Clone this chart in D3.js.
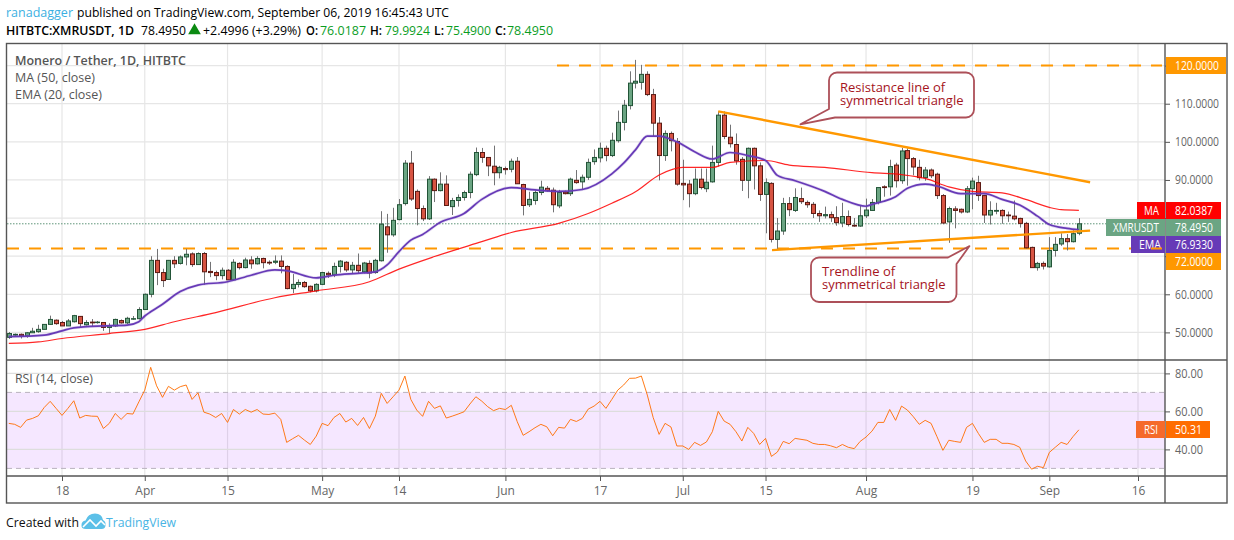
<!DOCTYPE html>
<html>
<head>
<meta charset="utf-8">
<script src="https://cdn.jsdelivr.net/npm/d3@7"></script>
<style>
  html, body { margin: 0; padding: 0; background: #fff; }
  svg { display: block; font-family: "Open Sans", sans-serif; }
  .axis path { display: none; }
  .axis line { stroke: #555; }
  .axis text { fill: #666; font-size: 12px; font-family: "Open Sans", sans-serif; }
</style>
</head>
<body>
<script>
// daily candles, first one is 9 Mar 2019
var firstDay = new Date(Date.UTC(2019, 2, 9));

var opens = [48.7,49.3,49.5,49.1,49.9,50.2,50.8,52.1,53.2,52.6,
  51.7,52.8,54.2,52.0,52.7,52.6,52.6,51.3,51.7,53.1,
  52.5,53.5,53.6,56.0,60.0,68.9,65.7,63.9,68.9,68.1,
  69.8,70.6,67.8,70.7,66.0,65.7,64.9,66.3,63.8,68.1,
  67.0,69.0,68.0,69.4,68.4,68.4,68.7,67.3,61.5,62.6,
  63.1,62.1,60.9,62.6,65.5,65.1,67.3,68.4,66.4,67.6,
  65.9,68.1,65.7,68.8,77.7,75.6,79.6,83.8,94.4,87.0,
  82.5,79.8,90.2,87.2,88.9,83.0,84.6,85.4,86.7,91.4,
  97.2,95.9,93.6,91.9,93.0,92.8,94.9,88.8,83.5,84.6,
  86.7,87.8,87.3,83.2,86.8,86.4,89.9,89.5,90.7,94.8,
  95.8,98.3,96.4,100.3,105.1,109.5,115.4,115.6,117.7,112.4,
  104.9,96.4,102.2,100.1,89.1,88.9,86.4,90.2,87.7,89.5,
  94.6,107.0,101.2,99.3,95.4,89.9,98.3,93.7,86.2,89.1,
  74.4,76.6,83.8,82.0,85.1,84.1,83.6,81.2,80.6,80.9,
  80.1,78.7,80.4,78.1,77.9,80.6,82.0,84.1,88.2,88.2,
  93.9,89.8,97.7,95.6,93.3,90.6,92.6,91.5,85.9,79.0,
  82.4,82.3,81.6,87.7,89.3,85.9,80.8,81.8,82.0,80.8,
  80.5,79.9,78.6,72.3,67.0,68.1,67.2,71.5,73.2,74.6,
  73.8,76.02];
var highs = [50.1,49.7,49.7,50.1,51.2,52.0,52.1,54.4,53.4,53.0,
  53.5,54.6,54.3,53.2,53.5,53.0,52.7,52.4,53.6,53.4,
  54.1,54.3,56.6,60.2,70.0,71.9,66.7,69.0,70.0,70.2,
  71.9,71.0,71.0,71.1,68.5,66.2,67.0,66.6,69.2,68.4,
  69.6,70.0,70.0,69.6,68.9,70.2,70.2,67.6,65.3,63.9,
  63.5,62.3,62.9,65.9,66.0,68.3,69.0,68.7,68.5,70.7,
  68.5,68.9,69.3,81.8,81.1,82.7,85.0,95.2,97.6,87.5,
  83.3,91.0,90.4,92.0,91.2,85.3,86.2,87.2,92.2,98.5,
  98.4,96.0,99.0,93.7,93.5,95.6,96.0,89.0,86.9,87.2,
  89.8,88.4,88.0,87.4,87.2,90.6,92.6,91.4,95.6,98.0,
  99.8,99.0,102.4,108.2,111.0,118.5,121.5,120.2,118.5,113.9,
  106.5,103.0,102.7,101.0,95.3,90.0,93.0,93.0,93.0,99.0,
  108.0,108.0,104.5,102.2,96.0,98.5,98.5,94.6,90.4,89.4,
  80.0,85.3,85.5,87.8,88.0,84.6,84.2,82.0,83.0,81.7,
  83.1,84.0,82.0,80.0,83.4,85.1,85.0,88.0,88.6,95.3,
  94.5,98.4,98.3,96.0,95.3,93.4,93.0,91.9,86.3,83.0,
  83.1,82.5,88.4,90.6,91.1,86.1,84.4,84.0,82.3,81.7,
  84.6,80.1,79.0,72.5,68.5,68.6,75.0,75.0,76.0,75.8,
  76.8,79.99];
var lows = [48.3,49.1,48.4,48.6,49.9,49.9,50.8,52.0,52.0,51.7,
  51.7,52.6,51.4,51.8,51.6,52.3,50.4,49.8,51.4,52.3,
  52.2,53.3,53.4,55.9,59.2,62.4,61.9,63.9,66.9,67.8,
  67.6,67.2,67.8,62.5,64.5,63.7,63.9,63.8,63.6,66.5,
  66.8,66.7,67.8,66.8,67.7,67.9,65.5,61.3,60.3,61.8,
  61.7,60.5,60.5,62.4,64.3,64.5,65.7,65.9,65.4,65.4,
  65.5,64.2,65.4,68.6,70.9,75.1,79.4,83.3,84.5,78.1,
  79.2,79.5,84.2,87.0,83.3,80.8,83.0,84.6,85.2,91.0,
  94.5,91.0,88.6,90.4,91.4,92.0,89.0,80.7,82.9,83.5,
  86.0,86.9,81.5,82.6,86.2,85.8,89.0,87.6,90.0,94.0,
  94.6,94.9,96.0,99.8,103.0,108.5,114.0,113.7,112.0,101.4,
  89.9,95.0,97.5,88.5,84.7,82.8,86.0,87.5,86.8,89.3,
  93.5,100.7,98.5,94.0,87.1,85.2,87.5,84.5,76.0,73.6,
  71.9,75.6,80.5,81.6,83.7,82.7,80.0,79.0,79.9,79.0,
  78.0,77.6,77.8,77.7,77.7,80.0,81.9,83.6,85.6,85.9,
  88.0,89.0,88.5,91.2,89.9,89.8,90.5,85.0,78.4,73.5,
  77.3,81.2,81.3,82.3,84.5,78.7,78.3,81.0,78.5,79.0,
  79.4,77.5,72.0,67.0,66.2,66.5,67.0,69.9,72.7,71.5,
  73.6,75.49];
var closes = [49.7,49.5,49.1,49.9,50.3,50.8,52.1,53.4,52.3,51.7,
  53.0,54.4,52.3,52.6,52.5,52.7,51.3,51.8,53.4,52.5,
  53.7,53.6,56.0,60.0,68.9,65.7,63.6,68.9,68.0,69.8,
  70.5,67.8,70.7,65.9,65.7,64.9,66.3,63.8,68.4,67.0,
  69.0,68.0,69.4,68.3,68.2,68.7,67.3,61.5,62.6,63.1,
  62.0,60.9,62.6,65.7,65.1,67.3,68.7,66.4,67.6,66.2,
  68.2,65.6,68.9,78.4,75.6,79.4,83.5,94.4,85.0,82.5,
  79.8,90.2,87.2,88.9,83.3,84.6,85.4,86.7,91.5,97.2,
  95.9,93.7,91.9,93.3,92.7,94.9,89.0,83.3,84.9,86.7,
  88.1,87.2,83.5,86.7,86.4,90.2,89.3,90.7,94.6,95.9,
  98.3,96.4,100.4,105.1,109.6,115.4,115.9,117.7,112.4,104.9,
  96.4,102.2,100.3,88.9,88.7,86.4,90.2,88.0,89.4,94.6,
  107.0,101.4,99.5,95.0,89.9,98.3,93.7,86.2,89.3,74.4,
  76.6,83.8,82.2,85.4,84.3,83.5,81.2,80.6,80.9,80.1,
  78.8,80.4,78.3,77.9,80.6,82.1,84.1,88.0,88.0,93.5,
  89.8,97.6,95.6,93.4,90.6,92.6,91.1,85.9,78.7,82.5,
  82.0,81.6,87.7,89.7,85.9,80.8,82.0,82.0,80.6,80.6,
  79.8,78.6,72.2,67.0,68.1,67.4,71.5,73.1,74.6,73.8,
  75.9,78.495];

// bar number then value
var emaBars = [0,6,9,11,16,20,22,23,24,26,29,32,37,41,45,47,52,55,59,62,64,66,68,70,73,77,80,85,89,93,97,102,104,106,108,110,113,116,119,122,125,128,130,133,138,141,145,146,148,150,152,155,157,161,165,168,171,174,176,179,181];
var emaValues = [48.9,49.3,50.4,51.2,51.7,51.9,52.8,54.3,55.4,57.4,60.7,62.4,63.3,65,66.4,66.2,64.3,65,65.5,65.9,67.7,71.2,74.2,75.7,78.9,81.2,84.9,88,87.4,87,87.5,91.6,94.4,97.9,101.5,101.5,100,97.4,95.5,97.2,96.4,95.1,91.2,89.8,87,84.9,83.1,83.6,84.4,85.6,87.8,88.9,88.4,86.4,86.4,84.9,83.4,80.5,78.3,77.3,76.93];
var maBars = [0,5,9,17,23,28,35,45,52,61,66,72,80,85,93,98,102,106,110,114,119,122,128,132,138,146,151,155,159,163,168,172,176,178,181];
var maValues = [47.1,47.5,48.4,49.7,50.8,52.8,55.2,59.1,60.9,63.3,66.6,69.9,73.8,76.2,78.6,81.2,83.9,86.9,91.3,93.3,93.3,94.6,95.1,93.9,93.3,91.9,91.4,90.4,88.2,87,86.6,84.9,82.8,82.2,82.04];

var rsiValues = [53.7,53.2,51.6,55.4,56.3,57.7,62.1,65.3,61.6,57.9,
  61.6,65.6,56.5,57.9,57.5,57.4,51.0,53.7,58.9,55.8,
  58.9,58.6,65.0,71.2,83.2,73.5,67.4,73.2,71.2,73.0,
  73.9,66.3,69.8,59.6,58.6,56.8,58.9,54.2,61.0,58.6,
  61.0,59.6,61.0,58.6,58.4,59.1,55.8,43.7,45.6,47.4,
  44.9,42.6,47.0,53.7,52.5,56.8,58.9,54.4,56.3,52.6,
  56.8,51.0,57.5,69.5,64.2,67.7,71.2,78.6,66.3,60.7,
  57.4,65.3,61.6,62.9,56.5,57.5,58.6,59.8,63.9,67.7,
  65.4,62.5,60.4,61.6,61.0,63.2,54.6,47.4,49.3,51.4,
  53.2,51.9,47.2,51.6,51.2,55.8,54.7,56.3,61.2,62.8,
  65.3,61.6,66.3,71.2,73.9,77.4,77.5,78.6,68.6,56.7,
  47.9,53.7,51.8,41.8,41.8,40.0,43.7,42.1,43.9,49.3,
  60.0,54.9,53.2,49.3,44.4,51.6,48.4,42.6,45.8,36.3,
  38.6,44.2,43.0,45.8,45.3,44.8,43.2,42.6,42.6,41.9,
  40.9,42.6,41.1,40.4,44.2,46.5,49.6,54.2,54.2,61.0,
  55.3,62.8,60.7,57.2,53.2,55.3,53.7,46.7,39.5,44.8,
  44.2,43.7,51.6,53.7,48.4,43.7,45.3,45.3,43.2,43.2,
  42.6,41.1,33.9,29.6,31.1,30.4,38.4,41.1,43.7,42.6,
  46.7,50.31];

var priceTicks = [50, 60, 70, 80, 90, 100, 110, 120];
var coveredTicks = [70, 80, 120]; // these sit under the coloured tags
var rsiTicks = [40, 60, 80];
var tickDates = [[2019,2,18],[2019,3,1],[2019,3,15],[2019,4,1],[2019,4,14],[2019,5,1],[2019,5,17],[2019,6,1],[2019,6,15],[2019,7,1],[2019,7,19],[2019,8,1],[2019,8,16]];
var tickLabels = ["18","Apr","15","May","14","Jun","17","Jul","15","Aug","19","Sep","16"];

// orange lines drawn on the chart: bar, price
var resistanceBars = [120, 182.9], resistanceValues = [108, 89.4];
var supportBars = [129.1, 182.9], supportValues = [71.6, 76.7];

var W = 1234, H = 540;
var left = 7, right = 1165, outer = 1227, top_ = 43.5, priceBottom = 360, rsiBottom = 476, bottom = 503;

var svg = d3.select("body").append("svg").attr("width", W).attr("height", H);

var x = d3.scaleUtc()
  .domain([Date.UTC(2019, 2, 18), Date.UTC(2019, 8, 16)])
  .range([62, 1138]);
var y = d3.scaleLinear().domain([50, 120]).range([332.4, 65.6]);
var yr = d3.scaleLinear().domain([30, 80]).range([468.4, 373.4]);

function barDate(i) { return +firstDay + i * 86400000; }
function bx(i) { return x(barDate(i)); }

var defs = svg.append("defs");
defs.append("clipPath").attr("id", "priceClip").append("rect")
  .attr("x", left).attr("y", top_).attr("width", right - left).attr("height", priceBottom - top_);
defs.append("clipPath").attr("id", "rsiClip").append("rect")
  .attr("x", left).attr("y", priceBottom).attr("width", right - left).attr("height", rsiBottom - priceBottom);
defs.append("clipPath").attr("id", "tagClip").append("rect")
  .attr("x", 1148).attr("y", 236).attr("width", 17).attr("height", 17);

// grid
var gridColor = "#e6e6e6";
var grid = svg.append("g");
grid.selectAll("line.v")
  .data(tickDates)
  .enter()
  .append("line")
  .attr("x1", function(d) { return x(Date.UTC(d[0], d[1], d[2])); })
  .attr("x2", function(d) { return x(Date.UTC(d[0], d[1], d[2])); })
  .attr("y1", top_).attr("y2", rsiBottom)
  .attr("stroke", gridColor).attr("stroke-width", 1.2);
grid.selectAll("line.h")
  .data(priceTicks)
  .enter()
  .append("line")
  .attr("x1", left).attr("x2", right)
  .attr("y1", function(d) { return y(d); })
  .attr("y2", function(d) { return y(d); })
  .attr("stroke", gridColor).attr("stroke-width", 1.2);

// rsi band
svg.append("rect")
  .attr("x", left).attr("width", right - left)
  .attr("y", yr(70)).attr("height", yr(30) - yr(70))
  .attr("fill", "#9915ff").attr("opacity", 0.1);
grid = svg.append("g");
grid.selectAll("line")
  .data(rsiTicks)
  .enter()
  .append("line")
  .attr("x1", left).attr("x2", right)
  .attr("y1", function(d) { return yr(d); })
  .attr("y2", function(d) { return yr(d); })
  .attr("stroke", "#ddd").attr("stroke-width", 1.2);
svg.selectAll("line.band")
  .data([30, 70])
  .enter()
  .append("line")
  .attr("x1", left).attr("x2", right)
  .attr("y1", function(d) { return yr(d); })
  .attr("y2", function(d) { return yr(d); })
  .attr("stroke", "#b9b2bf").attr("stroke-dasharray", "5 4");

// last price line
svg.append("line")
  .attr("x1", left).attr("x2", right)
  .attr("y1", y(closes[closes.length - 1])).attr("y2", y(closes[closes.length - 1]))
  .attr("stroke", "#5f957a").attr("stroke-dasharray", "1.5 1.5");

// horizontal orange levels
function level(v, x0) {
  return svg.append("line")
    .attr("x1", x0).attr("x2", right - 3)
    .attr("y1", y(v)).attr("y2", y(v))
    .attr("stroke", "#ff9800").attr("stroke-width", 2).attr("stroke-dasharray", "12 10");
}
level(120, 557);
level(72, left);

// candles
var candles = svg.append("g").attr("clip-path", "url(#priceClip)");
var bars = opens.map(function(o, i) { return i; });
candles.selectAll("line")
  .data(bars)
  .enter()
  .append("line")
  .attr("x1", function(i) { return Math.round(bx(i)) + 0.5; })
  .attr("x2", function(i) { return Math.round(bx(i)) + 0.5; })
  .attr("y1", function(i) { return y(highs[i]); })
  .attr("y2", function(i) { return y(lows[i]); })
  .attr("stroke", "#737375");
candles.selectAll("rect")
  .data(bars)
  .enter()
  .append("rect")
  .attr("x", function(i) { return Math.round(bx(i)) - 1.5; })
  .attr("width", 4)
  .attr("y", function(i) { return Math.min(y(opens[i]), y(closes[i])); })
  .attr("height", function(i) { return Math.max(Math.abs(y(opens[i]) - y(closes[i])), 0.5); })
  .attr("fill", function(i) { return closes[i] >= opens[i] ? "#6ba583" : "#d75442"; })
  .attr("stroke", function(i) { return closes[i] >= opens[i] ? "#225437" : "#5b1a13"; });

// moving averages
var lineFn = d3.line().curve(d3.curveMonotoneX)
  .x(function(d) { return bx(d[0]); })
  .y(function(d) { return y(d[1]); });
var clipped = svg.append("g").attr("clip-path", "url(#priceClip)");
clipped.append("path")
  .attr("d", lineFn(d3.zip(maBars, maValues)))
  .attr("fill", "none").attr("stroke", "#ff0000").attr("stroke-width", 1.2).attr("opacity", 0.85);
clipped.append("path")
  .attr("d", lineFn(d3.zip(emaBars, emaValues)))
  .attr("fill", "none").attr("stroke", "#673ab7").attr("stroke-width", 3).attr("opacity", 0.2);
clipped.append("path")
  .attr("d", lineFn(d3.zip(emaBars, emaValues)))
  .attr("fill", "none").attr("stroke", "#673ab7").attr("stroke-width", 1.7);

// trend lines
var straight = d3.line()
  .x(function(d) { return bx(d[0]); })
  .y(function(d) { return y(d[1]); });
svg.append("path")
  .attr("d", straight(d3.zip(resistanceBars, resistanceValues)))
  .attr("fill", "none").attr("stroke", "#ff9800").attr("stroke-width", 2.4);
svg.append("path")
  .attr("d", straight(d3.zip(supportBars, supportValues)))
  .attr("fill", "none").attr("stroke", "#ff9800").attr("stroke-width", 2.4);

// rsi
svg.append("path")
  .attr("clip-path", "url(#rsiClip)")
  .attr("d", d3.line()
    .x(function(d, i) { return bx(i); })
    .y(function(d) { return yr(d); })(rsiValues))
  .attr("fill", "none").attr("stroke", "#ff6d00").attr("stroke-width", 1).attr("opacity", 0.9);

// callouts, the tail is spliced into the rounded box
function calloutText(lines, tx, ty) {
  svg.selectAll(null)
    .data(lines)
    .enter()
    .append("text")
    .attr("x", tx)
    .attr("y", function(d, i) { return ty + i * 12.5; })
    .attr("fill", "#a5141c")
    .style("font-size", "13px")
    .text(function(d) { return d; });
}
function drawCallout(p) {
  svg.append("path").attr("d", p.toString())
    .attr("fill", "#fff").attr("stroke", "#ad5059").attr("stroke-width", 1.8).attr("stroke-linejoin", "round");
}
var r = 8;
var p1 = d3.path(), x0 = 829, y0 = 72.5, x1 = 974, y1 = 117.5;
p1.moveTo(x0 + r, y0);
p1.lineTo(x1 - r, y0);
p1.arcTo(x1, y0, x1, y0 + r, r);
p1.lineTo(x1, y1 - r);
p1.arcTo(x1, y1, x1 - r, y1, r);
p1.lineTo(835, y1);
p1.lineTo(bx(133.9), y(104.6));
p1.lineTo(x0, 109);
p1.lineTo(x0, y0 + r);
p1.arcTo(x0, y0, x0 + r, y0, r);
p1.closePath();
drawCallout(p1);
calloutText(["Resistance line of", "symmetrical triangle"], 840, 92.2);

var p2 = d3.path();
x0 = 811; y0 = 257.5; x1 = 956.5; y1 = 302;
p2.moveTo(x0 + r, y0);
p2.lineTo(948, y0);
p2.lineTo(bx(162.5), y(72.65));
p2.lineTo(x1, 264);
p2.lineTo(x1, y1 - r);
p2.arcTo(x1, y1, x1 - r, y1, r);
p2.lineTo(x0 + r, y1);
p2.arcTo(x0, y1, x0, y1 - r, r);
p2.lineTo(x0, y0 + r);
p2.arcTo(x0, y0, x0 + r, y0, r);
p2.closePath();
drawCallout(p2);
calloutText(["Trendline of", "symmetrical triangle"], 822, 276.3);

// frame
var frame = svg.append("g").attr("fill", "none").attr("stroke", "#555").attr("stroke-width", 1.4);
frame.append("rect").attr("x", 6.5).attr("y", top_).attr("width", outer - 6.5).attr("height", bottom - top_);
frame.append("line").attr("x1", right).attr("x2", right).attr("y1", top_).attr("y2", bottom);
frame.append("line").attr("x1", 6.5).attr("x2", outer).attr("y1", priceBottom).attr("y2", priceBottom);
frame.append("line").attr("x1", 6.5).attr("x2", outer).attr("y1", rsiBottom).attr("y2", rsiBottom);

// axes
var priceAxis = d3.axisRight(y).tickValues(priceTicks)
  .tickSize(5).tickPadding(5).tickFormat(d3.format(".4f"));
var priceG = svg.append("g").attr("class", "axis").attr("transform", "translate(" + right + ",0)").call(priceAxis);
priceG.selectAll("text")
  .attr("textLength", function(d) { return d >= 100 ? 44 : 38; })
  .attr("lengthAdjust", "spacingAndGlyphs")
  .filter(function(d) { return coveredTicks.indexOf(d) >= 0; })
  .remove();
var rsiAxis = d3.axisRight(yr).tickValues(rsiTicks)
  .tickSize(5).tickPadding(5).tickFormat(d3.format(".2f"));
svg.append("g").attr("class", "axis").attr("transform", "translate(" + right + ",0)").call(rsiAxis)
  .selectAll("text")
  .attr("textLength", 28).attr("lengthAdjust", "spacingAndGlyphs");
var timeAxis = d3.axisBottom(x)
  .tickValues(tickDates.map(function(d) { return Date.UTC(d[0], d[1], d[2]); }))
  .tickSize(5).tickPadding(5)
  .tickFormat(function(d, i) { return tickLabels[i]; });
svg.append("g").attr("class", "axis").attr("transform", "translate(0," + rsiBottom + ")").call(timeAxis);

// price labels on the right
function tag(x0, y0, w, h, color, str, tx, len) {
  svg.append("rect").attr("x", x0).attr("y", y0).attr("width", w).attr("height", h).attr("fill", color);
  svg.append("text").attr("x", tx).attr("y", y0 + 13).attr("fill", "#fff")
    .attr("textLength", len).attr("lengthAdjust", "spacingAndGlyphs")
    .style("font-size", "12px").style("font-weight", 500).text(str);
}
tag(1166, 57, 60, 17, "#ff9800", "120.0000", 1175, 44);
tag(1137, 202, 28, 17, "#ff0000", "MA", 1144, 15);
tag(1166, 202, 55, 17, "#ff0000", "82.0387", 1175, 38);
tag(1106, 219, 59, 17, "#6ba583", "XMRUSDT", 1113, 46);
tag(1166, 219, 55, 17, "#6ba583", "78.4950", 1175, 38);
tag(1131, 236, 34, 17, "#673ab7", "EMA", 1139, 22);
tag(1166, 236, 55, 17, "#673ab7", "76.9330", 1175, 38);
tag(1166, 253, 55, 17, "#ff9800", "72.0000", 1175, 38);
tag(1136, 421, 29, 17, "#f56a2b", "RSI", 1144, 14);
tag(1166, 421, 44, 17, "#ff6d00", "50.31", 1175, 27);
// the 72 level runs over the EMA tag
level(72, left).attr("clip-path", "url(#tagClip)");

// header and legends
function label(x0, y0, str, len, color, weight, size) {
  var t = svg.append("text").attr("x", x0).attr("y", y0)
    .attr("fill", color || "#000")
    .style("font-size", (size || 13) + "px")
    .style("font-weight", weight || 400)
    .text(str);
  if (len) t.attr("textLength", len).attr("lengthAdjust", "spacingAndGlyphs");
}
var up = "#0b9d1f";
label(6, 17, "ranadagger", 67, "#3bb0e2");
label(77, 17, "published on TradingView.com, September 06, 2019 16:45:43 UTC", 372);
label(6, 35, "HITBTC:XMRUSDT, 1D", 128, "#000", 600);
label(141, 35, "78.4950", 45);
svg.append("path").attr("d", d3.symbol(d3.symbolTriangle, 70)()).attr("transform", "translate(194.5,30.5)").attr("fill", "#0b8a12");
label(203, 35, "+2.4996 (+3.29%)", 98);
label(306, 35, "O:", 12, "#000", 600);
label(320, 35, "76.0187", 46, up);
label(370, 35, "H:", 12, "#000", 600);
label(385, 35, "79.9924", 45, up);
label(434, 35, "L:", 10, "#000", 600);
label(446, 35, "75.4900", 45, up);
label(495, 35, "C:", 11, "#000", 600);
label(507, 35, "78.4950", 46, up);
label(15, 65, "Monero / Tether, 1D, HITBTC", 171, "#555", 600);
label(15, 82, "MA (50, close)", 80, "#555");
label(15, 99, "EMA (20, close)", 87, "#555");
label(15, 383, "RSI (14, close)", 78, "#555");

// footer
label(6, 527, "Created with", 73, "#111");
svg.append("path")
  .attr("d", "M86 529 q-5 0 -4.5 -4 q0 -4 4 -4.5 q2.5 -7 9.5 -7 q7 0 8 6.5 q3 1.5 2.5 5 q0 4 -4 4 z")
  .attr("fill", "#5cc0e8");
svg.append("path")
  .attr("d", "M83 527 l7 -7 l6 6 l5 -5 l4 4")
  .attr("fill", "none").attr("stroke", "#fff").attr("stroke-width", 1.6);
label(106, 527, "TradingView", 70, "#49b4e4");
</script>
</body>
</html>
